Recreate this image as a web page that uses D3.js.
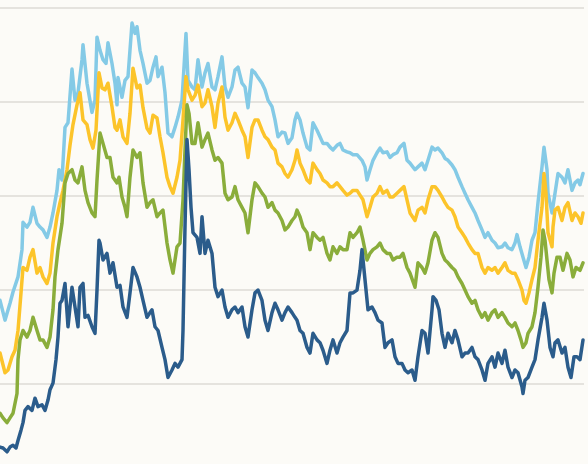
<!DOCTYPE html>
<html><head><meta charset="utf-8">
<script src="https://cdn.jsdelivr.net/npm/d3@7"></script>
<style>html,body{margin:0;padding:0;background:#fcfbf7;overflow:hidden}svg{display:block}</style>
</head><body>
<svg id="chart" width="588" height="464"></svg>
<script>
// time index (half-periods) and value pairs
const gridTicks = [0, 10, 20, 30, 40];
const seriesNames = ["s1", "s2", "s3", "s4"];
const seriesColors = ["#84cae6", "#fcc42a", "#8aad3b", "#2b5c8b"];

const lightBlue = [[0,8.9],[2.5,6.8],[5,8.6],[6.5,9.8],[9,11.4],[11,14.3],[11.5,17.2],[13.5,16.7],[15,17.2],[16.5,18.8],[18.5,17.1],[20,16.7],[21.5,16.4],[23.5,15.6],[25,16.7],[26.5,18.2],[28.5,20.6],[29.5,22.8],[31,21.7],[32.5,27.3],[34,27.8],[36,33.5],[37.5,30.2],[39,31.0],[41,34.5],[41.5,36.1],[43.5,32.0],[46,28.9],[47.5,30.2],[48.5,36.9],[50,35.5],[51.5,34.5],[53,34.1],[54,36.3],[56,34.1],[57.5,32.0],[58.5,29.7],[59,32.6],[61,30.5],[62.5,32.3],[64,32.7],[66,38.4],[67.5,37.3],[68.5,38.0],[70,35.5],[71.5,34.1],[73.5,32.0],[75,32.3],[76.5,33.7],[78,34.8],[79,32.7],[81,33.7],[82.5,31.0],[84,26.7],[86,26.3],[87.5,27.3],[89,28.4],[91,30.2],[92,33.7],[93,37.3],[94,32.3],[96,31.6],[97.5,31.3],[99,34.5],[101,31.6],[102.5,33.1],[104,34.1],[106,31.6],[107.5,31.3],[109,32.7],[111,34.8],[112.5,31.6],[114,30.5],[116,31.6],[117.5,33.4],[119,33.7],[121,32.0],[122.5,31.6],[124,29.4],[126,33.4],[127.5,33.1],[129,32.6],[131,32.0],[132.5,31.3],[134,30.2],[136,29.5],[137.5,28.1],[139,26.3],[141,26.8],[142.5,26.7],[144,25.6],[146,26.2],[147.5,28.1],[148.5,28.8],[150,28.1],[151.5,26.7],[153.5,25.2],[155,24.9],[156.5,27.8],[158.5,27.0],[160,26.3],[161.5,25.6],[163.5,25.6],[165,25.2],[166.5,24.9],[168.5,25.4],[170,25.6],[171.5,24.9],[173.5,24.7],[175,24.6],[176.5,24.4],[178.5,24.4],[181,23.8],[182.5,23.1],[183.5,21.7],[185,22.8],[186.5,23.8],[188.5,24.6],[190,25.1],[191.5,24.6],[193.5,24.7],[195,24.1],[196.5,24.4],[198.5,24.6],[200,25.2],[202,25.6],[203.5,23.8],[205,23.5],[207.5,22.8],[209,23.1],[211,23.5],[212.5,22.8],[214,23.8],[216,25.2],[217.5,24.9],[219,25.1],[221,24.6],[222.5,24.0],[224,23.8],[226,23.3],[227.5,22.8],[229,22.0],[231,21.0],[232.5,20.3],[234,19.6],[236,18.8],[237.5,18.2],[239,17.4],[241,16.4],[242.5,15.6],[244,16.1],[246,15.3],[247.5,15.0],[249,14.5],[251,14.6],[252.5,15.0],[254,14.5],[256,14.3],[257.5,15.0],[258.5,15.9],[260,14.6],[261.5,13.5],[263,12.4],[264.5,13.5],[266,15.3],[267.5,16.1],[269,19.3],[271,23.1],[272,25.2],[273.5,22.8],[274,20.3],[276,18.2],[277.5,20.3],[279,22.4],[281,22.0],[282.5,21.4],[284,22.8],[286,20.6],[287.5,21.4],[289,21.7],[290,21.2],[291.5,22.4]];

const yellow = [[0,3.3],[2.5,1.2],[4,1.5],[6,2.9],[7.5,3.6],[9,5.7],[10.5,9.7],[11.5,12.4],[13.5,12.1],[15,13.5],[16.5,14.3],[18.5,11.8],[20,12.4],[21.5,11.4],[23.5,10.7],[25,11.8],[26.5,15.0],[28.5,17.8],[30,19.3],[31.5,20.6],[33.5,22.8],[35,25.4],[36.5,27.6],[38.5,29.7],[40,31.0],[41.5,28.1],[43.5,27.6],[45,26.0],[46.5,25.1],[48,27.0],[49.5,33.1],[51,31.5],[52.5,31.3],[54,32.0],[56,29.5],[57.5,27.3],[58.5,27.0],[60,28.1],[61.5,26.3],[63.5,25.6],[65,28.8],[66.5,33.6],[68.5,31.5],[70,31.8],[71.5,29.4],[73.5,27.2],[75,26.7],[76.5,28.6],[78.5,28.3],[80,26.3],[81.5,24.6],[83.5,22.0],[85,21.0],[86.5,20.3],[88.5,22.0],[90,23.8],[91.5,28.1],[93,32.7],[94,31.3],[96,30.2],[97.5,30.7],[99,31.8],[101,29.5],[102.5,29.9],[104,31.3],[106,29.5],[107.5,27.3],[109,29.9],[111,31.6],[112.5,28.4],[114,27.0],[116,27.8],[117.5,28.8],[119,28.1],[121,27.0],[122.5,26.3],[124,24.1],[126,27.3],[127.5,28.1],[129,28.1],[131,27.0],[132.5,26.3],[134,26.0],[136,25.2],[137.5,24.9],[139,23.5],[141,23.1],[142.5,22.4],[144,22.0],[146,22.8],[147.5,23.8],[148.5,24.9],[150,23.5],[151.5,22.8],[153.5,21.7],[155,21.4],[156.5,23.5],[158.5,22.8],[160,22.4],[161.5,21.7],[163.5,21.4],[165,21.0],[166.5,21.0],[168.5,21.4],[170,21.0],[171.5,20.6],[173.5,20.1],[175,20.3],[176.5,20.6],[178.5,20.6],[180,20.1],[181.5,19.6],[183.5,17.8],[185,18.8],[186.5,19.9],[188.5,20.3],[190,21.0],[191.5,20.3],[193.5,20.6],[195,19.9],[196.5,19.9],[198.5,20.3],[200,20.6],[202,21.0],[203.5,19.6],[205,18.2],[207.5,17.4],[209,18.5],[211,18.8],[212.5,18.2],[214,19.6],[216,21.0],[217.5,21.0],[219,20.6],[221,19.9],[222.5,19.3],[224,18.8],[226,18.5],[227.5,17.8],[229,16.7],[231,16.1],[232.5,15.6],[234,15.0],[236,14.3],[237.5,13.9],[239,13.9],[241,12.4],[242.5,11.8],[244,12.4],[246,12.1],[247.5,12.4],[249,11.8],[251,12.4],[252.5,12.9],[254,12.1],[256,11.8],[257.5,11.8],[259,11.1],[261,10.0],[262,8.9],[263,8.6],[264.5,9.7],[266,11.1],[267.5,12.4],[269,15.3],[271,18.8],[272,22.4],[273,20.3],[274,16.1],[276,14.6],[276.5,16.7],[277.5,18.5],[279,18.8],[281,17.4],[282.5,18.8],[284,19.3],[286,17.4],[287.5,18.2],[289,17.8],[290.5,17.1],[291.5,18.2]];

const green = [[0,-3.1],[1.5,-3.6],[3.5,-4.1],[5,-3.6],[6.5,-3.1],[8.5,-1.0],[9,2.6],[10,4.7],[11.5,5.7],[13.5,5.0],[15,5.7],[16.5,7.1],[18.5,5.7],[20,4.7],[21.5,4.7],[23.5,3.9],[25,5.0],[26.5,7.9],[27.5,11.4],[29,14.3],[31,17.1],[32.5,21.4],[34,22.4],[36,22.8],[37.5,21.7],[39,21.4],[41,23.1],[42.5,20.6],[44,19.3],[46,18.2],[47.5,17.8],[48.5,21.7],[50,26.7],[51.5,25.6],[53.5,24.1],[55,24.1],[56.5,22.0],[58.5,21.4],[59.5,22.0],[61,19.9],[62.5,18.8],[63.5,17.8],[65,22.0],[66.5,24.9],[68.5,24.1],[70,24.6],[71.5,21.4],[73.5,18.8],[75,19.3],[76.5,19.6],[78.5,17.8],[80,18.2],[81.5,18.5],[83.5,15.0],[85,13.2],[86.5,11.8],[88.5,14.6],[90,15.0],[91.5,19.6],[92.5,24.9],[93.5,29.7],[94.5,28.8],[96,25.6],[97.5,25.6],[99,27.8],[101,25.2],[102.5,26.0],[104,26.7],[106,24.9],[107.5,23.8],[109,24.1],[111,23.5],[112.5,20.3],[114,19.6],[116,19.9],[117.5,21.0],[119,19.6],[121,18.8],[122.5,18.2],[124,16.1],[126,19.6],[127.5,21.4],[129,21.0],[131,20.3],[132.5,19.9],[134,18.8],[136,19.3],[137.5,18.5],[139,18.2],[141,17.4],[142.5,16.4],[144,16.7],[146,17.4],[147.5,17.8],[148.5,18.5],[150,17.8],[151.5,16.7],[153.5,16.1],[155,14.3],[156.5,16.1],[158.5,15.6],[160,15.3],[161.5,15.6],[163.5,13.9],[165,13.2],[166.5,14.6],[168.5,13.9],[170,14.6],[171.5,14.3],[173.5,14.3],[175,16.1],[176.5,15.6],[178.5,16.1],[180,16.7],[181.5,15.3],[183.5,13.2],[185,13.9],[186.5,14.3],[188.5,14.6],[190,15.0],[191.5,14.3],[193.5,13.9],[195,13.9],[196.5,13.2],[198.5,13.5],[200,13.5],[201.5,13.9],[203.5,12.4],[205,11.8],[207.5,10.3],[209,12.9],[211,12.4],[212.5,11.8],[214,12.9],[216,15.3],[217.5,16.1],[219,15.6],[221,13.9],[222.5,13.2],[224,12.9],[226,12.4],[227.5,12.1],[229,11.4],[231,10.7],[232.5,10.0],[234,9.3],[236,8.6],[237.5,8.9],[239,7.9],[241,7.1],[242.5,7.6],[244,6.8],[246,7.6],[247.5,7.9],[249,7.1],[251,7.6],[252.5,7.1],[254,6.5],[256,6.1],[257.5,6.5],[259,5.7],[260.5,4.7],[261.5,3.9],[263,4.4],[264,5.4],[266,6.1],[267.5,7.6],[269,10.3],[270.5,13.5],[271.5,16.4],[272.5,15.3],[273.5,13.2],[274.5,11.1],[276,9.7],[277,11.8],[278.5,13.5],[280,13.5],[281.5,12.1],[283.5,13.9],[285,13.2],[286.5,11.4],[288,12.4],[290,12.1],[291.5,12.9]];

const darkBlue = [[0,-6.7],[1.5,-6.8],[3.5,-7.2],[5,-6.7],[6.5,-6.5],[8,-6.8],[9,-6.0],[10.5,-4.9],[11.5,-4.1],[12.5,-2.8],[14,-2.4],[16,-2.8],[17.5,-1.5],[19,-2.4],[21,-2.2],[22.5,-2.8],[24,-1.7],[25,-0.6],[26.5,0.1],[28,2.6],[29,5.0],[30,8.6],[31,8.9],[32.5,10.7],[34,6.1],[36,10.3],[37.5,8.2],[39,6.1],[40,10.3],[41.5,10.7],[42.5,7.1],[44,7.3],[46,6.1],[47.5,5.4],[48.5,10.0],[49.5,15.3],[50,15.0],[51.5,13.2],[53.5,13.9],[55,11.8],[56.5,12.9],[58.5,10.3],[60,10.5],[61.5,8.2],[63.5,7.1],[65,9.7],[66.5,12.4],[68.5,11.4],[70,10.3],[71.5,8.9],[73.5,7.1],[75,7.6],[76,7.9],[77.5,6.1],[79,5.7],[81,3.9],[82.5,2.6],[84,0.7],[86,1.5],[87.5,2.2],[89,1.8],[91,2.6],[91.5,5.7],[92.5,16.7],[93.5,26.0],[94.5,22.8],[95.5,18.8],[96.5,16.1],[98.5,15.6],[100,13.9],[101,17.8],[102.5,13.9],[104,15.3],[106,13.9],[107.5,10.3],[109,9.3],[111,10.0],[112.5,8.2],[114,7.1],[116,7.9],[117.5,8.2],[119,7.6],[121,8.2],[122.5,6.1],[124,5.0],[126,7.9],[127.5,9.7],[129,10.0],[131,8.9],[132.5,6.8],[134,5.7],[136,7.6],[137.5,8.6],[139,7.9],[141,6.8],[142.5,7.6],[144,8.2],[146,7.6],[147.5,7.1],[148.5,6.8],[150,5.7],[151.5,5.4],[153.5,3.9],[155,3.3],[156.5,5.4],[158.5,4.7],[160,4.4],[161.5,3.6],[163.5,2.2],[165,3.6],[166.5,4.7],[168.5,3.3],[170,4.4],[171.5,5.0],[173.5,5.7],[175,9.7],[176.5,9.7],[178.5,10.0],[180,12.1],[181,14.3],[182.5,11.1],[184,7.9],[186,8.2],[187.5,7.6],[189,6.8],[191,6.5],[192.5,3.9],[194,4.4],[196,4.7],[197.5,2.9],[199,2.2],[201,2.2],[202.5,1.5],[204,1.2],[206,1.5],[207.5,0.4],[209,2.9],[211,5.7],[212.5,5.4],[214,3.3],[216,7.9],[216.5,9.3],[218,8.9],[219.5,7.9],[221,5.4],[222.5,3.9],[224,5.4],[226,4.4],[227.5,5.7],[229,4.7],[231,2.9],[232.5,3.3],[234,3.3],[236,3.9],[237.5,2.9],[239,2.6],[241,1.5],[242.5,0.4],[244,2.2],[246,2.9],[247.5,1.8],[249,3.3],[251,2.2],[252.5,3.6],[254,1.8],[256,0.7],[257.5,1.5],[259,1.2],[261,-0.3],[261.5,-1.0],[262.5,0.4],[264,0.7],[266,1.8],[267.5,2.6],[269,4.7],[271,7.1],[272,8.6],[273.5,6.8],[275,3.9],[276.5,2.9],[277.5,4.4],[279,4.7],[281,3.3],[282.5,3.9],[284,1.8],[285.5,0.7],[287,2.9],[288.5,2.9],[290,2.6],[291.5,4.7]];

const allSeries = [lightBlue, yellow, green, darkBlue];

const W = 588, H = 464;
const svg = d3.select("#chart");
svg.append("rect").attr("width", W).attr("height", H).attr("fill", "#fcfbf7");

const x = d3.scaleLinear().domain([0, 291.5]).range([0, 583]);
const y = d3.scaleLinear().domain([-8.5, 40.85]).range([H, 0]);

svg.append("g").selectAll("line").data(gridTicks).join("line")
  .attr("x1", 0).attr("x2", x(292))
  .attr("y1", d => y(d)).attr("y2", d => y(d))
  .attr("stroke", "#e5e3de").attr("stroke-width", 2);

const line = d3.line().x(d => x(d[0])).y(d => y(d[1]));

svg.append("g").selectAll("path").data(allSeries).join("path")
  .attr("class", (d, i) => seriesNames[i])
  .attr("d", line)
  .attr("fill", "none")
  .attr("stroke", (d, i) => seriesColors[i])
  .attr("stroke-width", 3.5)
  .attr("stroke-linejoin", "round")
  .attr("stroke-linecap", "round");
</script>
</body></html>
